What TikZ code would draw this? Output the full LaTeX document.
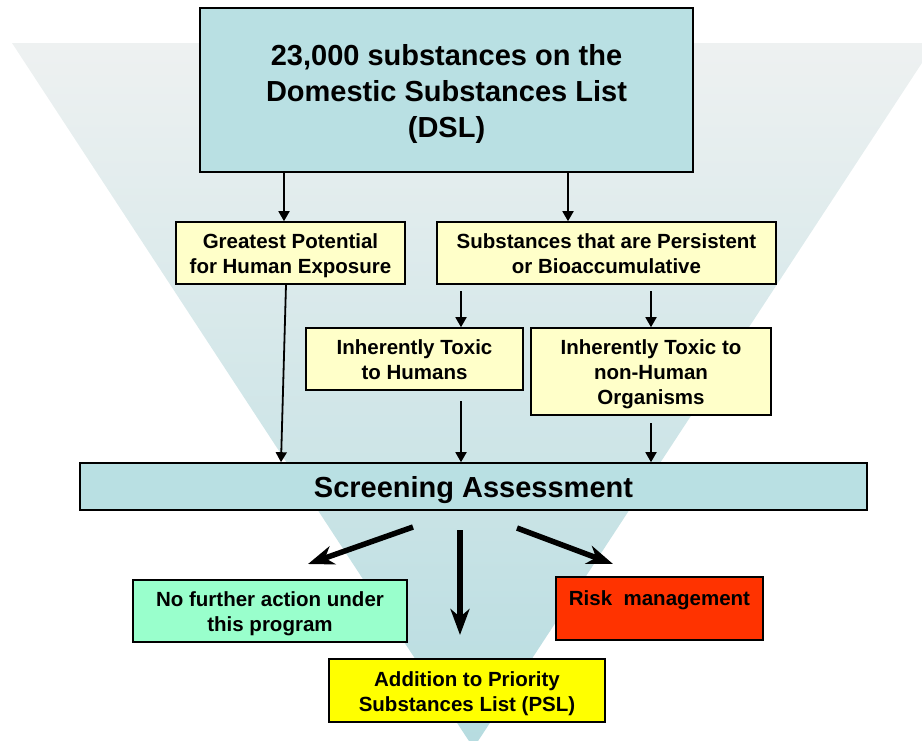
\documentclass[tikz,border=0pt]{standalone}
\usepackage{fontspec}
\setmainfont{Liberation Sans}
\usetikzlibrary{arrows.meta}
\definecolor{funneltop}{HTML}{EEF1F1}
\definecolor{funnelbot}{HTML}{B6DCE0}
\definecolor{boxteal}{HTML}{B9E0E3}
\definecolor{paleyellow}{HTML}{FFFFC9}
\definecolor{mint}{HTML}{99FFCC}
\definecolor{riskred}{HTML}{FF3300}
\definecolor{brightyellow}{HTML}{FFFF00}
% centred lines of text, drawn a little lower than their box's middle
\newcommand\droptext[2]{\raisebox{-#1}[\height][\depth]{\begin{tabular}{@{}c@{}}#2\end{tabular}}}
\begin{document}
\begin{tikzpicture}[x=1pt,y=-1pt,
  box/.style={draw=black, line width=1.6pt, inner sep=0pt, align=center,
    font=\bfseries\fontsize{20.5}{25}\selectfont},
  bigbox/.style={box, fill=boxteal, font=\bfseries\fontsize{29}{36}\selectfont},
  note/.style={box, fill=paleyellow},
  flow/.style={line width=1.8pt, -{Triangle[length=10pt,width=11pt]}},
  outflow/.style={line width=5.5pt, -{Stealth[length=26pt,width=19pt,inset=8pt]}}]
\useasboundingbox (0,0) rectangle (922,740);
% funnel backdrop
\shade[top color=funneltop, bottom color=funnelbot] (12,43) -- (935,43) -- (473.5,748) -- cycle;

% boxes
\node[bigbox, minimum width=493pt, minimum height=164pt] (dsl) at (446.5,90)
  {\droptext{4pt}{23,000 substances on the\\Domestic Substances List\\(DSL)}};
\node[note, minimum width=229pt, minimum height=62pt] (gp) at (290.5,253)
  {\droptext{2.5pt}{Greatest Potential\\for Human Exposure}};
\node[note, minimum width=339pt, minimum height=62pt] (sp) at (606.5,253)
  {\droptext{2.5pt}{Substances that are Persistent\\or Bioaccumulative}};
\node[note, minimum width=217pt, minimum height=62pt] (ith) at (414.5,359)
  {\droptext{3pt}{Inherently Toxic\\to Humans}};
\node[note, minimum width=240pt, minimum height=87pt] (itn) at (651,371.5)
  {\droptext{3pt}{Inherently Toxic to\\non-Human\\Organisms}};
\node[bigbox, minimum width=787pt, minimum height=47pt] (scr) at (473.5,486.5)
  {\droptext{4pt}{Screening Assessment}};
\node[box, fill=mint, minimum width=274pt, minimum height=62pt] (nfa) at (270,611)
  {\droptext{3pt}{No further action under\\this program}};
\node[box, fill=riskred, minimum width=207pt, minimum height=63pt] (risk) at (659.5,608.5)
  {\droptext{4pt}{Risk\ \ management\\\strut}};
\node[box, fill=brightyellow, minimum width=276pt, minimum height=63pt] (psl) at (467,690.5)
  {\droptext{3pt}{Addition to Priority\\Substances List (PSL)}};

% connectors
\draw[flow] (dsl.south -| 284,0) -- (gp.north -| 284,0);
\draw[flow] (dsl.south -| 568,0) -- (sp.north -| 568,0);
\draw[flow] (gp.south -| 286,0) -- (scr.north -| 281,0);
\coordinate (splt) at (461,291);
\coordinate (sprt) at (651,291);
\draw[flow] (splt) -- (ith.north -| splt);
\draw[flow] (sprt) -- (itn.north -| sprt);
\coordinate (ithout) at (461,401);
\coordinate (itnout) at (651,423);
\draw[flow] (ithout) -- (scr.north -| ithout);
\draw[flow] (itnout) -- (scr.north -| itnout);

% outcomes of the screening
\coordinate (oleft) at (413,527);
\coordinate (omid) at (460,530);
\coordinate (oright) at (517,528);
\coordinate (tleft) at (308,564);
\coordinate (tmid) at (460,635);
\coordinate (tright) at (613,564);
\draw[outflow] (oleft) -- (tleft);
\draw[outflow] (omid) -- (tmid);
\draw[outflow] (oright) -- (tright);
\end{tikzpicture}
\end{document}
